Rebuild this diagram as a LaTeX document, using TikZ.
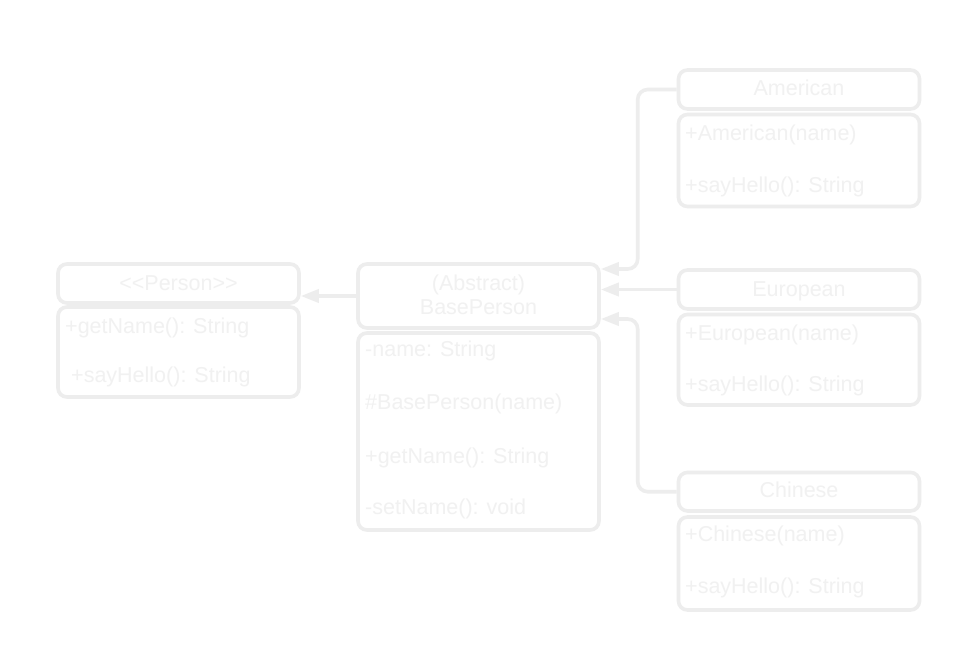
\documentclass[tikz,border=0pt]{standalone}
\usepackage{fontspec}
\newfontfamily\umlfont{Liberation Sans}
\usetikzlibrary{arrows.meta}
\definecolor{linecol}{HTML}{EDEDED}
\definecolor{txtcol}{HTML}{F1F1F1}

\begin{document}
\begin{tikzpicture}[x=1pt,y=-1pt,
          box/.style={draw=linecol,line width=3.6pt,rounded corners=9pt,minimum width=241pt,inner sep=0pt},
          txt/.style={inner sep=0pt,text=txtcol,font=\umlfont\fontsize{21.5}{25}\selectfont,text height=15.5pt,text depth=0pt},
          item/.style={txt,anchor=west},
          inh/.style={draw=linecol,line width=3.6pt,rounded corners=10pt,-{Triangle[length=18pt,width=13pt]}}
        ]
        \useasboundingbox[fill=white] (0,0) rectangle (960,669);
        \node[box,minimum height=39pt] (ps) at (178.5,283.5) {};
        \node[box,minimum height=90pt] (psbody) at (178.5,352) {};
        \node[txt] (psname) at (178.5,283) {<<Person>>};
        \node[item] (psget) at (65,325.5) {+getName(): String};
        \node[item] (pshello) at (71,375) {+sayHello(): String};
        \node[box,minimum height=64pt] (bp) at (478.5,296) {};
        \node[box,minimum height=197pt] (bpbody) at (478.5,431.5) {};
        \node[txt] (bpabs) at (478.5,283) {(Abstract)};
        \node[txt] (bpname) at (478.5,307) {BasePerson};
        \node[item] (bpfield) at (365,349) {-name: String};
        \node[item] (bpctor) at (365,401.5) {\#BasePerson(name)};
        \node[item] (bpget) at (365,455.5) {+getName(): String};
        \node[item] (bpset) at (365,506.7) {-setName(): void};
        \node[box,minimum height=39pt] (am) at (799,89.5) {};
        \node[box,minimum height=92pt] (ambody) at (799,160.5) {};
        \node[txt] (amname) at (799,88) {American};
        \node[item] (amctor) at (685,132.5) {+American(name)};
        \node[item] (amhello) at (685,185) {+sayHello(): String};
        \node[box,minimum height=39pt] (eu) at (799,289.5) {};
        \node[box,minimum height=90.5pt] (eubody) at (799,359.7) {};
        \node[txt] (euname) at (799,289) {European};
        \node[item] (euctor) at (685,333) {+European(name)};
        \node[item] (euhello) at (685,384) {+sayHello(): String};
        \node[box,minimum height=38.5pt] (cn) at (799,491.7) {};
        \node[box,minimum height=93pt] (cnbody) at (799,563.5) {};
        \node[txt] (cnname) at (799,490) {Chinese};
        \node[item] (cnctor) at (685,534) {+Chinese(name)};
        \node[item] (cnhello) at (685,586) {+sayHello(): String};
        \draw[inh] (bp.west) -- (bp.west -| ps.east);
        \draw[inh] (am.west) -- ++(-39,0) |- ([yshift=27pt]bp.east);
        \draw[inh] (eu.west) -- (eu.west -| bp.east);
        \draw[inh] (cn.west) -- ++(-39,0) |- ([yshift=-23pt]bp.east);
      \end{tikzpicture}
\end{document}
